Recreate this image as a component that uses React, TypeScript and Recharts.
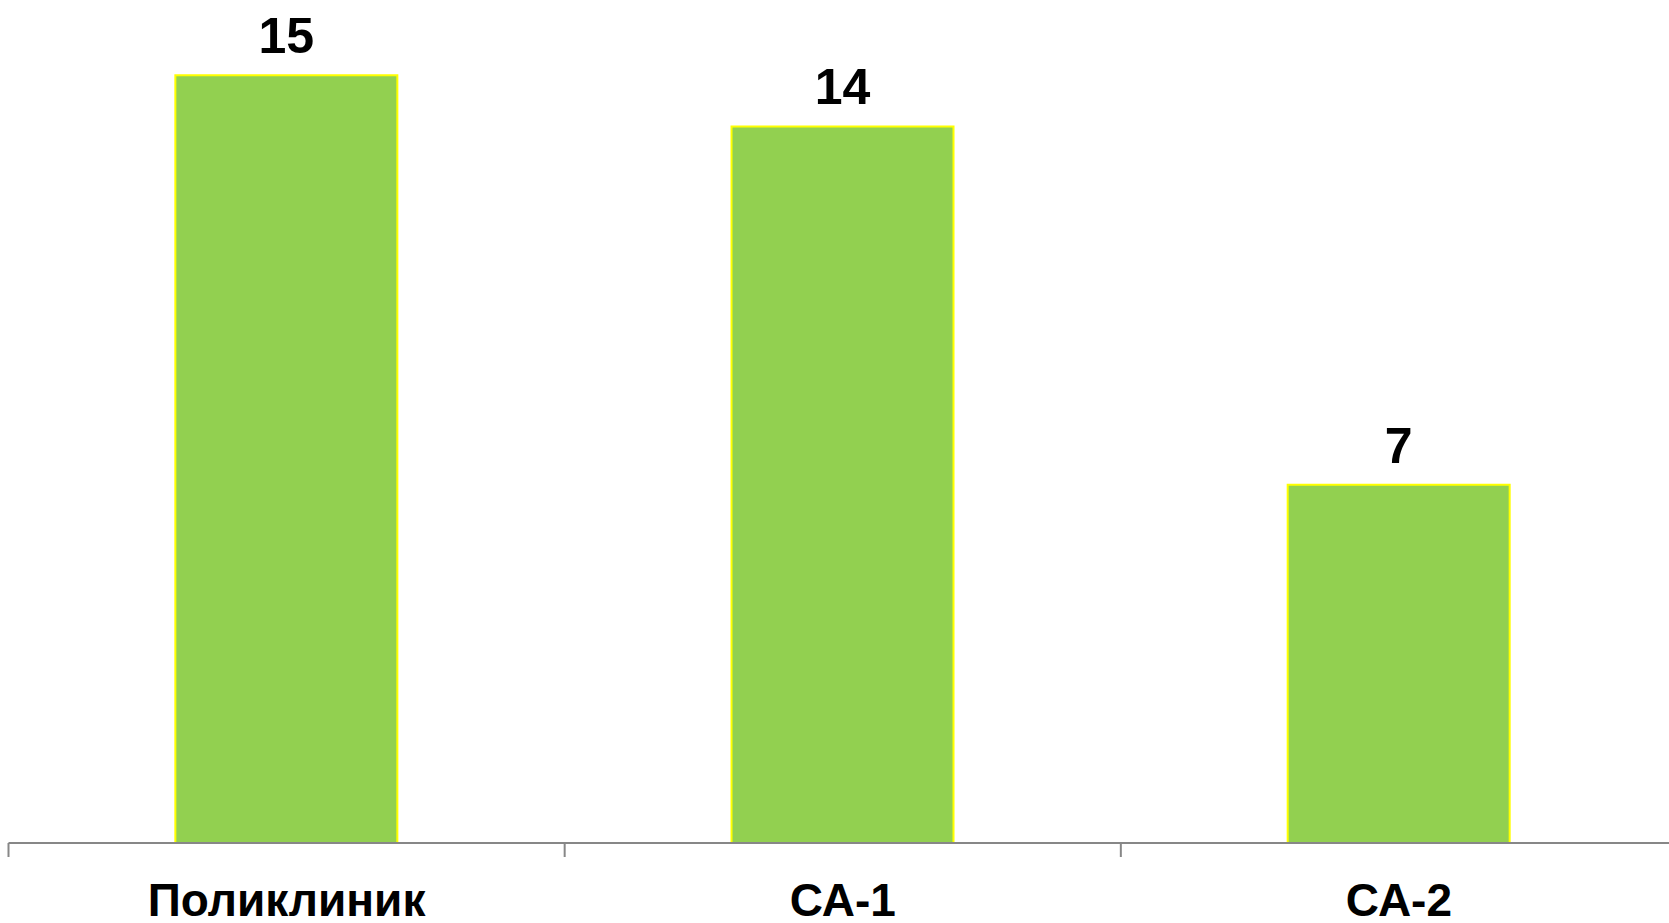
import React from 'react';
import { BarChart, Bar, XAxis, YAxis, LabelList } from 'recharts';

const categories = ['Поликлиник', 'СА-1', 'СА-2'];
const counts = [15, 14, 7];

const chartData = categories.map((name, i) => ({ name, count: counts[i] }));

const AXIS_GRAY = '#878787';
const TICK_SIZE = 14;
const TICK_MARGIN = 26;

// label under the category plus a tick mark on the left edge of its band
function CategoryTick(props: any) {
  const { x, y, payload } = props;
  const half = payload?.offset ?? 0;
  const axisY = y - TICK_SIZE - TICK_MARGIN;
  return (
    <g>
      <line
        x1={x - half}
        x2={x - half}
        y1={axisY}
        y2={axisY + TICK_SIZE}
        stroke={AXIS_GRAY}
        strokeWidth={2}
      />
      <text
        x={x}
        y={y}
        dy="0.71em"
        textAnchor="middle"
        fill="#000"
        fontSize={46}
        fontWeight="bold"
      >
        {payload.value}
      </text>
    </g>
  );
}

export default function App() {
  return (
    <div
      style={{
        position: 'absolute',
        left: 0,
        top: 0,
        width: 1669,
        height: 923,
        overflow: 'hidden',
        background: '#fff',
      }}
    >
      <BarChart
        width={1700}
        height={923}
        data={chartData}
        margin={{ top: 24, right: 23, bottom: 0, left: 8.5 }}
        barCategoryGap="30%"
        style={{ fontFamily: '"Liberation Sans", Arial, sans-serif' }}
      >
        <XAxis
          dataKey="name"
          height={80}
          interval={0}
          tickLine={false}
          tickSize={TICK_SIZE}
          tickMargin={TICK_MARGIN}
          axisLine={{ stroke: AXIS_GRAY, strokeWidth: 2 }}
          tick={<CategoryTick />}
        />
        <YAxis hide domain={[0, 16]} />
        <Bar
          dataKey="count"
          fill="#92D050"
          stroke="#FFFF00"
          strokeWidth={2}
          isAnimationActive={false}
        >
          <LabelList
            dataKey="count"
            position="top"
            offset={22}
            fill="#000"
            fontSize={50}
            fontWeight="bold"
          />
        </Bar>
      </BarChart>
    </div>
  );
}
